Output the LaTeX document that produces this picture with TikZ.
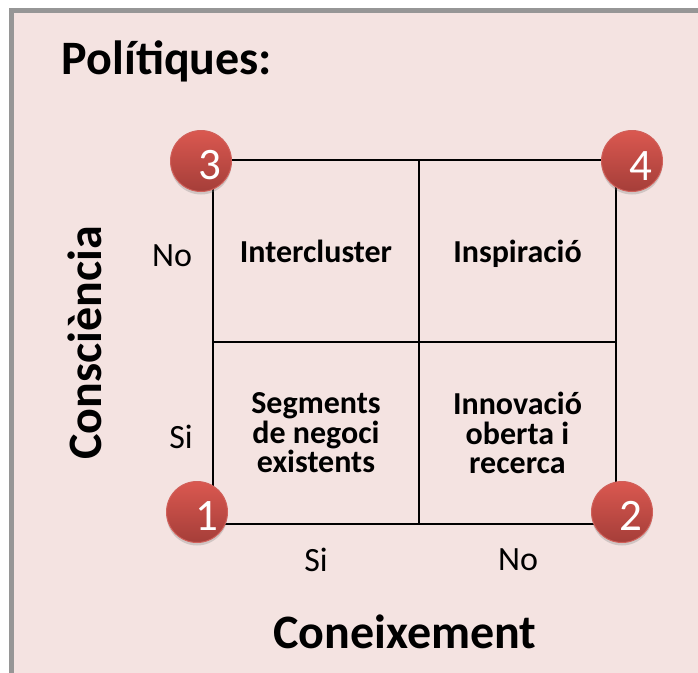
\documentclass[tikz,border=0pt]{standalone}
\usepackage{fontspec}
\setmainfont{Carlito}
\usetikzlibrary{calc, shadows}

\definecolor{panelfill}{HTML}{F4E3E1}
\definecolor{panelline}{HTML}{969696}
\definecolor{badgetop}{HTML}{DA5850}
\definecolor{badgebot}{HTML}{A53E39}
\definecolor{badgeline}{HTML}{D0605A}

\tikzset{
  cellbox/.style={draw=black, line width=2.8pt, minimum height=182pt, inner sep=0pt, outer sep=0pt, align=center, font=\bfseries\fontsize{32}{29.5}\selectfont},
  badge/.style={circle, draw=badgeline, line width=1pt, minimum size=61pt, inner sep=0pt, top color=badgetop, bottom color=badgebot, drop shadow={shadow xshift=0pt, shadow yshift=-3pt, opacity=0.3}},
  badgenum/.style={text=white, inner sep=0pt, font=\fontsize{45}{45}\selectfont},
  axisval/.style={inner sep=0pt, font=\fontsize{34}{36}\selectfont},
  axisname/.style={inner sep=0pt, font=\bfseries\fontsize{48}{50}\selectfont}
}

\begin{document}
\begin{tikzpicture}[x=1pt, y=-1pt]
  \useasboundingbox (0, 0) rectangle (698, 672);

  %% panel
  \fill[white] (0, 0) rectangle (698, 672);
  \path[fill=panelfill, draw=panelline, line width=5pt] (11, 10) rectangle (706, 682);
  \node[inner sep=0pt, font=\bfseries\fontsize{48}{50}\selectfont] (title) at (167, 61) {Polítiques:};

  %% cells
  \node[cellbox, minimum width=206pt] (cellTL) at (316, 251) {Intercluster};
  \node[cellbox, minimum width=197pt] (cellTR) at (517.5, 251) {Ins\smash{p}iració};
  \node[cellbox, minimum width=206pt] (cellBL) at (316, 433) {Segments\\de negoci\\existents};
  \node[cellbox, minimum width=197pt] (cellBR) at (517.5, 433) {Innovació\\oberta i\\recerca};

  %% axis values
  \node[axisval] (noY) at (172, 256) {No};
  \node[axisval] (siY) at (181, 437) {Si};
  \node[axisval] (siX) at (316, 560) {Si};
  \node[axisval] (noX) at (518, 560) {No};

  %% axis names
  \node[axisname] (xname) at (405, 632) {Coneixement};
  \node[axisname, rotate=90] (yname) at (85, 343) {Consciència};

  %% badges
  \node[badge] (badge1) at (197, 512) {};
  \node[badgenum] at ($(badge1) + (10, 4)$) {1};
  \node[badge] (badge2) at (622, 512) {};
  \node[badgenum] at ($(badge2) + (9, 4)$) {2};
  \node[badge] (badge3) at (201, 161) {};
  \node[badgenum] at ($(badge3) + (9, 4)$) {3};
  \node[badge] (badge4) at (632, 161) {};
  \node[badgenum] at ($(badge4) + (9, 5)$) {4};
\end{tikzpicture}
\end{document}
